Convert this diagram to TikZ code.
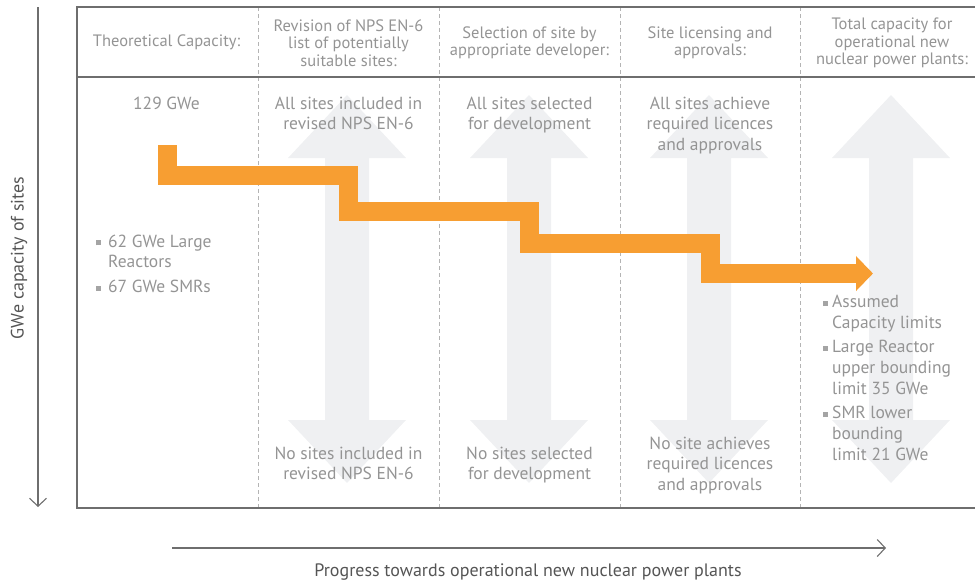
\documentclass[tikz,border=0pt]{standalone}
\usepackage{tikz}
\usepackage{xcolor}
\usepackage{fontspec}
\setmainfont{PT Sans}
\usetikzlibrary{arrows.meta,positioning}

\definecolor{barorange}{RGB}{247,158,50}
\definecolor{shadegrey}{RGB}{239,240,242}
\definecolor{labelgrey}{RGB}{148,148,148}
\definecolor{framegrey}{RGB}{110,110,110}
\definecolor{axisgrey}{RGB}{85,85,85}
\newcommand{\sqbul}{\textcolor{labelgrey!85}{\rule[1.8pt]{5pt}{5pt}}}

\begin{document}
\begin{tikzpicture}[x=1pt, y=-1pt,
    every node/.style = {inner sep=0pt, text=labelgrey, align=center},
    head/.style = {font=\fontsize{16.5}{17.5}\selectfont},
    body/.style = {font=\fontsize{17.5}{20.5}\selectfont, anchor=north},
    bullets/.style = {font=\fontsize{17.5}{20.5}\selectfont, anchor=north west},
    axislabel/.style = {font=\fontsize{18}{20}\selectfont, text=axisgrey},
    axis/.style = {draw=framegrey, line width=1.1pt,
      -{Straight Barb[length=8pt,width=17pt]}},
    sep/.style = {draw=labelgrey!70, line width=0.8pt, dash pattern=on 4pt off 3pt},
    frame/.style = {draw=framegrey, line width=1.6pt},
    flow/.style = {draw=barorange, line width=19pt, line join=miter,
      -{Triangle[length=17pt,width=34pt]}}]
  \useasboundingbox (0,0) rectangle (975,582);

  \foreach \x in {347,529,709,891}
    \fill[shadegrey] (\x,95) -- (\x+59,158) -- (\x+22,158) -- (\x+22,420)
      -- (\x+59,420) -- (\x,483) -- (\x-59,420) -- (\x-22,420)
      -- (\x-22,158) -- (\x-59,158) -- cycle;

  \foreach \x in {258,439,620,800}
    \draw[sep] (\x,7) -- (\x,508);
  \draw[frame] (975,7) -- (77,7) -- (77,508) -- (975,508);
  \draw[frame] (77,77) -- (975,77);

  \node[head] (hcap) at (166.5,42.5) {Theoretical Capacity:};
  \node[head] (hrev) at (348.5,43) {Revision of NPS EN-6\\list of potentially\\suitable sites:};
  \node[head] (hsel) at (529.5,43) {Selection of site by\\appropriate developer:};
  \node[head] (hlic) at (710,43) {Site licensing and\\approvals:};
  \node[head] (htot) at (892,43) {Total capacity for\\operational new\\nuclear power plants:};

  \node[body] (theory) at (166.5,96.5) {129 GWe};
  \node[body] (revall) at (348.5,96.5) {All sites included in\\revised NPS EN-6};
  \node[body] (selall) at (529.5,96.5) {All sites selected\\for development};
  \node[body] (licall) at (710,96.5) {All sites achieve\\required licences\\and approvals};
  \node[body] (revnone) at (348.5,446.5) {No sites included in\\revised NPS EN-6};
  \node[body] (selnone) at (529.5,446.5) {No sites selected\\for development};
  \node[body] (licnone) at (710,436.5) {No site achieves\\required licences\\and approvals};

  \node[bullets] (split) at (96,232.5) {\begin{tabular}{@{}l@{\hspace{7pt}}l@{}}
    \sqbul & 62 GWe Large\\ & Reactors\\[4.5pt]
    \sqbul & 67 GWe SMRs\end{tabular}};
  \node[bullets, font=\fontsize{17.5}{21}\selectfont] (limits) at (823,293)
    {\begin{tabular}{@{}l@{\hspace{4pt}}l@{}}
    \sqbul & Assumed\\ & Capacity limits\\[3pt]
    \sqbul & Large Reactor\\ & upper bounding\\ & limit 35 GWe\\[3pt]
    \sqbul & SMR lower\\ & bounding\\ & limit 21 GWe\end{tabular}};

  \coordinate (flow0) at (167.5,145);
  \coordinate (flow1) at (348.5,175.5);
  \coordinate (flow2) at (529.5,211.5);
  \coordinate (flow3) at (710,243);
  \coordinate (flow4) at (873,273.5);
  \draw[flow] (flow0) |- (flow1) |- (flow2) |- (flow3) |- (flow4);

  \coordinate (ytop) at (38,7);
  \coordinate (ybot) at (38,507);
  \draw[axis] (ytop) -- (ybot);
  \node[axislabel, rotate=90] (ylab) at (19,258) {GWe capacity of sites};

  \coordinate (xleft) at (172,548);
  \coordinate (xright) at (886,548);
  \draw[axis] (xleft) -- (xright);
  \node[axislabel] (xlab) at (528,572) {Progress towards operational new nuclear power plants};
\end{tikzpicture}
\end{document}
